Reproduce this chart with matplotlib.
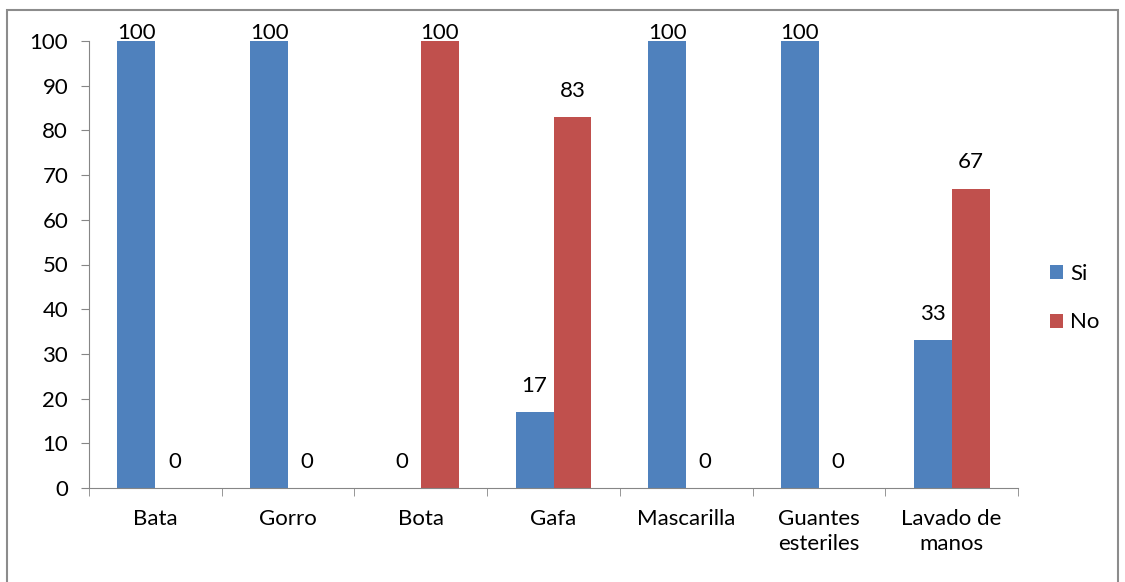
import numpy as np
import matplotlib.pyplot as plt
from matplotlib.patches import Rectangle

categories = ["Bata", "Gorro", "Bota", "Gafa", "Mascarilla", "Guantes\nesteriles", "Lavado de\nmanos"]
si = [100, 100, 0, 17, 100, 100, 33]
no = [0, 0, 100, 83, 0, 0, 67]

W, H = 1125, 582
plt.rcParams['font.family'] = ['Lato', 'DejaVu Sans']
plt.rcParams['font.size'] = 16

fig = plt.figure(figsize=(W / 100, H / 100), dpi=100)
ax = fig.add_axes([89 / W, 1 - 488 / H, (1018 - 89) / W, (488 - 41) / H])

# outer chart border (bottom edge falls off the image)
fig.patches.append(Rectangle((7 / W, 1 - 590 / H), (1118 - 7) / W, (590 - 10) / H,
                             transform=fig.transFigure, fill=False,
                             edgecolor='#8c8c8c', linewidth=1.5))

x = np.arange(len(categories))
bw = 0.286
b1 = ax.bar(x - bw / 2, si, bw, color='#4f81bd', label='Si')
b2 = ax.bar(x + bw / 2, no, bw, color='#c0504d', label='No')

for bars, vals in ((b1, si), (b2, no)):
    for b, v in zip(bars, vals):
        off = 6 if v == 100 else 19
        ax.annotate(str(v), (b.get_x() + b.get_width() / 2, v),
                    xytext=(0, off), textcoords='offset points',
                    ha='center', va='center', fontsize=16)

ax.set_xlim(-0.5, len(categories) - 0.5)
ax.set_ylim(0, 100)
ax.set_yticks(range(0, 101, 10))
ax.set_xticks(x)
ax.set_xticklabels(categories, linespacing=1.3)
ax.set_xticks(np.arange(-0.5, len(categories), 1), minor=True)
ax.tick_params(axis='x', which='major', length=0, pad=15)
ax.tick_params(axis='x', which='minor', length=6, color='#868686', direction='out')
ax.tick_params(axis='y', length=6, color='#868686', direction='out', pad=9)

for s in ('top', 'right'):
    ax.spines[s].set_visible(False)
for s in ('left', 'bottom'):
    ax.spines[s].set_color('#868686')

ax.legend(loc='center left', bbox_to_anchor=(1030 / W, 1 - 298 / H),
          bbox_transform=fig.transFigure, frameon=False,
          handlelength=0.6, handleheight=0.6, handletextpad=0.3,
          labelspacing=1.3, fontsize=16)

fig.savefig('out.png', dpi=100)
